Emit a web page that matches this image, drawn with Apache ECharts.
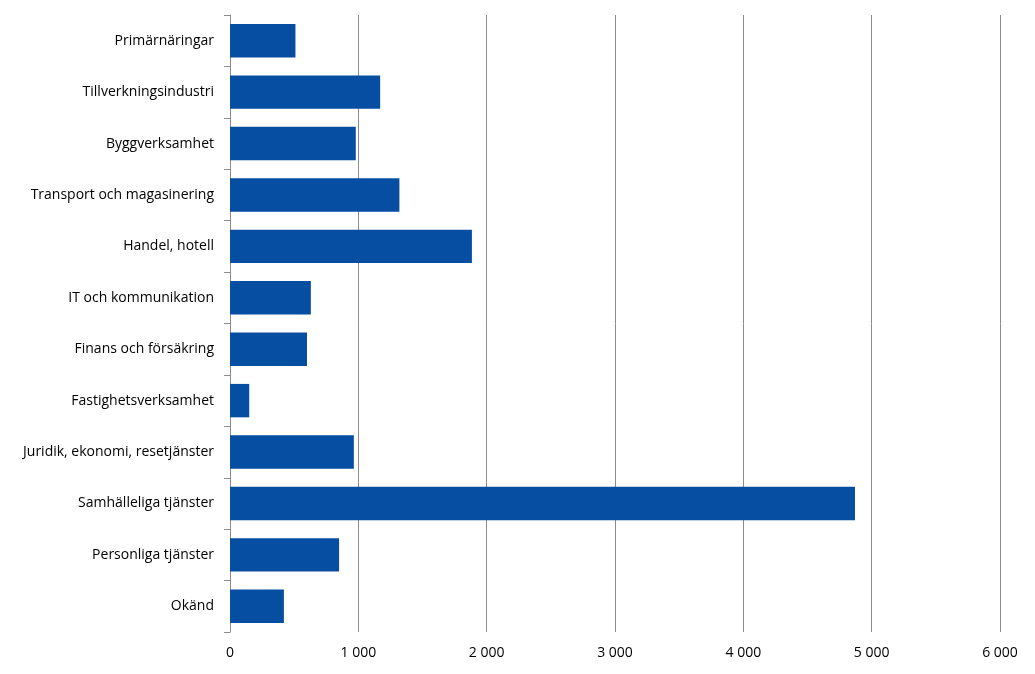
<!DOCTYPE html>
<html>
<head>
<meta charset="utf-8">
<script src="https://cdn.jsdelivr.net/npm/echarts@6/dist/echarts.min.js"></script>
<style>html,body{margin:0;padding:0;background:#fff}#chart{width:1035px;height:674px}</style>
</head>
<body>
<div id="chart"></div>
<script>
var categories = ["Primärnäringar", "Tillverkningsindustri", "Byggverksamhet", "Transport och magasinering",
  "Handel, hotell", "IT och kommunikation", "Finans och försäkring", "Fastighetsverksamhet",
  "Juridik, ekonomi, resetjänster", "Samhälleliga tjänster", "Personliga tjänster", "Okänd"];
var values = [510, 1170, 980, 1320, 1885, 630, 600, 150, 965, 4870, 850, 420];

var chart = echarts.init(document.getElementById('chart'));
chart.setOption({
  animation: false,
  textStyle: { fontFamily: 'Open Sans, Liberation Sans, sans-serif' },
  grid: { left: 230, right: 35, top: 15, bottom: 42 },
  xAxis: {
    type: 'value', min: 0, max: 6000, interval: 1000,
    axisLine: { show: false },
    axisTick: { show: false },
    splitLine: { lineStyle: { color: '#8c8c8c' } },
    axisLabel: {
      color: '#000', fontSize: 14, margin: 14,
      formatter: function (v) { return v >= 1000 ? Math.floor(v / 1000) + ' ' + String(v % 1000).padStart(3, '0') : String(v); }
    }
  },
  yAxis: {
    type: 'category', data: categories, inverse: true,
    axisLine: { show: true, lineStyle: { color: '#8c8c8c' } },
    axisTick: { show: true, length: 6, lineStyle: { color: '#8c8c8c' } },
    axisLabel: { color: '#000', fontSize: 14, margin: 16 }
  },
  series: [{
    type: 'bar', data: values, barCategoryGap: '35%',
    itemStyle: { color: '#064ea2' }
  }]
});
</script>
</body>
</html>
